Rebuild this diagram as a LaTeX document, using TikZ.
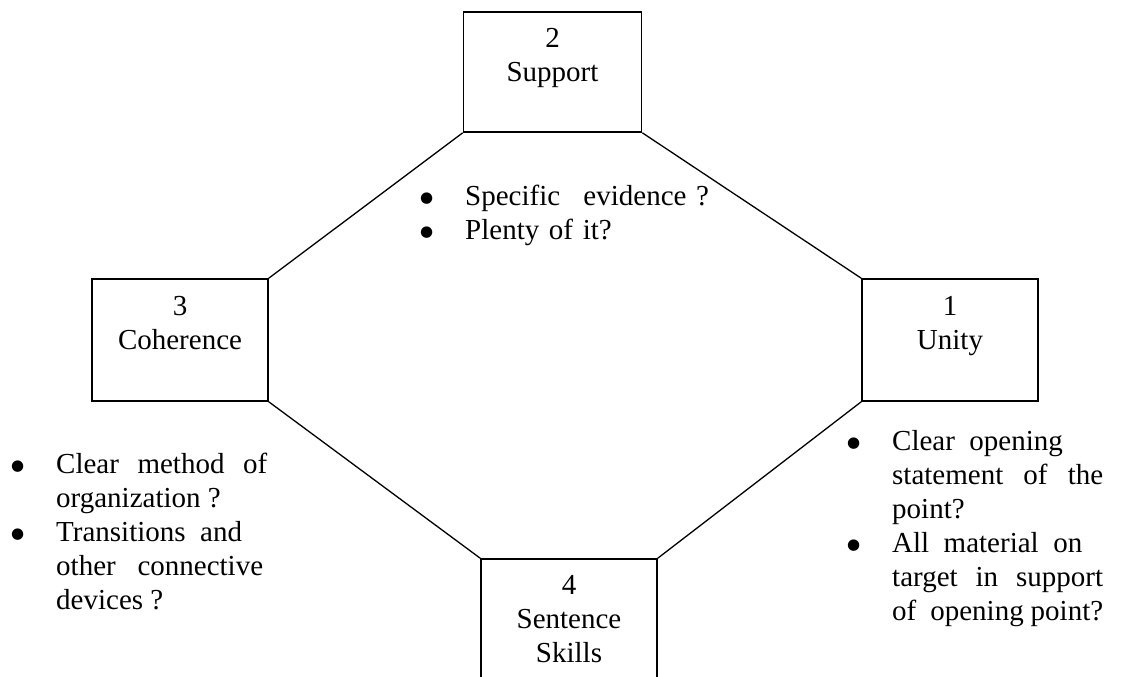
\documentclass[tikz,border=0pt]{standalone}
\usepackage{fontspec}
\setmainfont{Liberation Serif}
\newfontfamily\symfont{DejaVu Sans}
\usepackage{tikz}
\usetikzlibrary{positioning}
\setlength{\parindent}{0pt}
\newcommand{\bul}{\leavevmode\llap{\raisebox{3pt}{\symfont\fontsize{15}{15}\selectfont ●}\hspace{32pt}}}

\begin{document}
\begin{tikzpicture}[x=1pt, y=-1pt, font=\fontsize{29}{34}\selectfont,
    box/.style={draw, line width=1.6pt, minimum width=176pt, minimum height=122pt, align=center, inner sep=0pt},
    conn/.style={line width=1.3pt},
    notes/.style={anchor=north west, inner sep=0pt, text width=211pt, align=justify}]
    \clip (0,0) rectangle (1133,677);
    % the four boxes
    \node[box, minimum width=178pt, minimum height=120pt] (supp) at (552.5,72) {2\\Support\\\mbox{}};
    \node[box] (coh) at (180,340) {3\\Coherence\\\mbox{}};
    \node[box] (uni) at (950,340) {1\\Unity\\\mbox{}};
    \node[box, minimum height=154pt] (sent) at (569,636) {4\\Sentence\\Skills\\\mbox{}};
    % sides of the octagon
    \draw[conn] (coh.north east) -- (supp.south west);
    \draw[conn] (supp.south east) -- (uni.north west);
    \draw[conn] (uni.south west) -- (sent.north east);
    \draw[conn] (sent.north west) -- (coh.south east);
    % questions
    \node[notes, text width=280pt, align=left] (qsupp) at (465,185)
      {\bul Specific\hspace{0.8em}evidence ?\\\bul Plenty\ of\ it?};
    \node[notes] (qcoh) at (56,453)
      {\bul Clear method of\linebreak organization ?\par
       \bul Transitions\ \ and\newline other\ \ \ connective\newline devices ?};
    \node[notes] (quni) at (892,430)
      {\bul Clear\ \ opening\newline statement of the\linebreak point?\par
       \bul All\ \ material\ \ on\newline target in support\linebreak of\ \ opening point?};
  \end{tikzpicture}
\end{document}
